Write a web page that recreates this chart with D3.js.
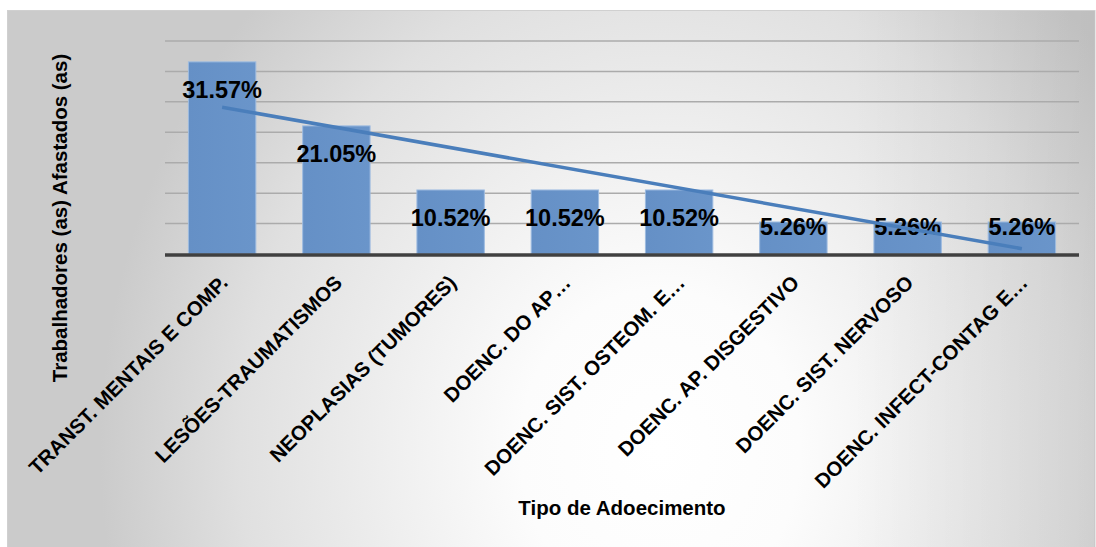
<!DOCTYPE html>
<html>
<head>
<meta charset="utf-8">
<script src="https://cdn.jsdelivr.net/npm/d3@7/dist/d3.min.js"></script>
<style>
  html, body { margin: 0; padding: 0; background: #ffffff; }
  svg { display: block; }
  text { font-family: "Liberation Sans", Arial, sans-serif; font-weight: bold; fill: #000; }
</style>
</head>
<body>
<svg id="chart" width="1096" height="547"></svg>
<script>
// Afastamentos por tipo de adoecimento (%)
const categories = [
  "TRANST. MENTAIS E COMP.",
  "LESÕES-TRAUMATISMOS",
  "NEOPLASIAS (TUMORES)",
  "DOENC. DO AP…",
  "DOENC. SIST. OSTEOM. E…",
  "DOENC. AP. DISGESTIVO",
  "DOENC. SIST. NERVOSO",
  "DOENC. INFECT-CONTAG E…"
];
const values = [31.57, 21.05, 10.52, 10.52, 10.52, 5.26, 5.26, 5.26];
const valueLabels = ["31.57%", "21.05%", "10.52%", "10.52%", "10.52%", "5.26%", "5.26%", "5.26%"];
const yTicks = [0, 5, 10, 15, 20, 25, 30, 35];
const yTitle = "Trabalhadores (as) Afastados (as)";
const xTitle = "Tipo de Adoecimento";

const svg = d3.select("#chart");
const plot = { left: 165, right: 1079, top: 41, bottom: 254 };

// background panel with soft elliptical shading
const defs = svg.append("defs");
const grad = defs.append("radialGradient")
  .attr("id", "bg")
  .attr("gradientUnits", "userSpaceOnUse")
  .attr("cx", 660).attr("cy", 450).attr("r", 560)
  .attr("gradientTransform", "translate(660,450) scale(1,1.15) translate(-660,-450)");
grad.append("stop").attr("offset", 0).attr("stop-color", "#ffffff");
grad.append("stop").attr("offset", 0.25).attr("stop-color", "#fcfcfc");
grad.append("stop").attr("offset", 0.75).attr("stop-color", "#e0e0e0");
grad.append("stop").attr("offset", 1).attr("stop-color", "#cbcbcb");

// extra darkening toward the right edge
const side = defs.append("linearGradient")
  .attr("id", "side")
  .attr("gradientUnits", "userSpaceOnUse")
  .attr("x1", 850).attr("y1", 0).attr("x2", 1095).attr("y2", 0);
side.append("stop").attr("offset", 0).attr("stop-color", "#000").attr("stop-opacity", 0);
side.append("stop").attr("offset", 1).attr("stop-color", "#000").attr("stop-opacity", 0.06);

const barGrad = defs.append("linearGradient")
  .attr("id", "bar").attr("x1", 0).attr("y1", 0).attr("x2", 1).attr("y2", 0);
barGrad.append("stop").attr("offset", 0).attr("stop-color", "#6590c6");
barGrad.append("stop").attr("offset", 1).attr("stop-color", "#6a95ca");

svg.append("rect")
  .attr("x", 7.5).attr("y", 10.5)
  .attr("width", 1087.5).attr("height", 545)
  .attr("fill", "url(#bg)")
  .attr("stroke", "#d0d0d0").attr("stroke-width", 1);
svg.append("rect")
  .attr("x", 8).attr("y", 11)
  .attr("width", 1087).attr("height", 544)
  .attr("fill", "url(#side)");

const x = d3.scaleBand()
  .domain(categories)
  .range([plot.left, plot.right])
  .paddingInner(0.41)
  .paddingOuter(0.205);

const y = d3.scaleLinear()
  .domain([0, d3.max(yTicks)])
  .range([plot.bottom, plot.top]);

// horizontal gridlines
svg.append("g")
  .selectAll("line")
  .data(yTicks.filter(t => t > 0))
  .join("line")
  .attr("x1", plot.left).attr("x2", plot.right)
  .attr("y1", d => y(d)).attr("y2", d => y(d))
  .attr("stroke", "#ababab")
  .attr("stroke-width", 1.5);

// bars
svg.append("g")
  .selectAll("rect")
  .data(values)
  .join("rect")
  .attr("x", (d, i) => x(categories[i]))
  .attr("y", d => y(d))
  .attr("width", x.bandwidth())
  .attr("height", d => y(0) - y(d))
  .attr("fill", "url(#bar)")
  .attr("stroke", "#9dbbe0")
  .attr("stroke-width", 1);

// category axis line
svg.append("line")
  .attr("x1", plot.left).attr("x2", plot.right)
  .attr("y1", y(0) + 1).attr("y2", y(0) + 1)
  .attr("stroke", "#404040")
  .attr("stroke-width", 3.5);

// category labels, rotated
const xAxis = d3.axisBottom(x).tickSize(0).tickPadding(0);
const gx = svg.append("g").attr("transform", `translate(0,${y(0)})`).call(xAxis);
gx.select(".domain").remove();
gx.selectAll(".tick text")
  .attr("font-size", 20.4)
  .attr("font-family", "Liberation Sans, Arial, sans-serif")
  .attr("font-weight", "bold")
  .attr("fill", "#000")
  .attr("text-anchor", "end")
  .attr("dy", null)
  .attr("y", null)
  .attr("transform", "translate(7,30) rotate(-45)");

// value labels
svg.append("g")
  .selectAll("text")
  .data(values)
  .join("text")
  .attr("x", (d, i) => x(categories[i]) + x.bandwidth() / 2)
  .attr("y", d => Math.min(y(d) + 28, y(0) - 27) + 8)
  .attr("text-anchor", "middle")
  .attr("font-size", 23.5)
  .text((d, i) => valueLabels[i]);

// linear trend of the series
const n = values.length;
const xs = d3.range(1, n + 1);
const mx = d3.mean(xs), my = d3.mean(values);
const slope = d3.sum(xs, (xi, i) => (xi - mx) * (values[i] - my)) / d3.sum(xs, xi => (xi - mx) ** 2);
const intercept = my - slope * mx;
const trend = xs.map((xi, i) => ({ c: categories[i], v: intercept + slope * xi }));
svg.append("path")
  .datum([trend[0], trend[n - 1]])
  .attr("d", d3.line().x(d => x(d.c) + x.bandwidth() / 2).y(d => y(d.v)))
  .attr("fill", "none")
  .attr("stroke", "#4a7ebb")
  .attr("stroke-width", 3.5)
  .attr("stroke-linecap", "butt");

// axis titles
svg.append("text")
  .attr("transform", `translate(67,218) rotate(-90)`)
  .attr("text-anchor", "middle")
  .attr("font-size", 20.5)
  .text(yTitle);

svg.append("text")
  .attr("x", 622)
  .attr("y", 515)
  .attr("text-anchor", "middle")
  .attr("font-size", 20.5)
  .text(xTitle);
</script>
</body>
</html>
